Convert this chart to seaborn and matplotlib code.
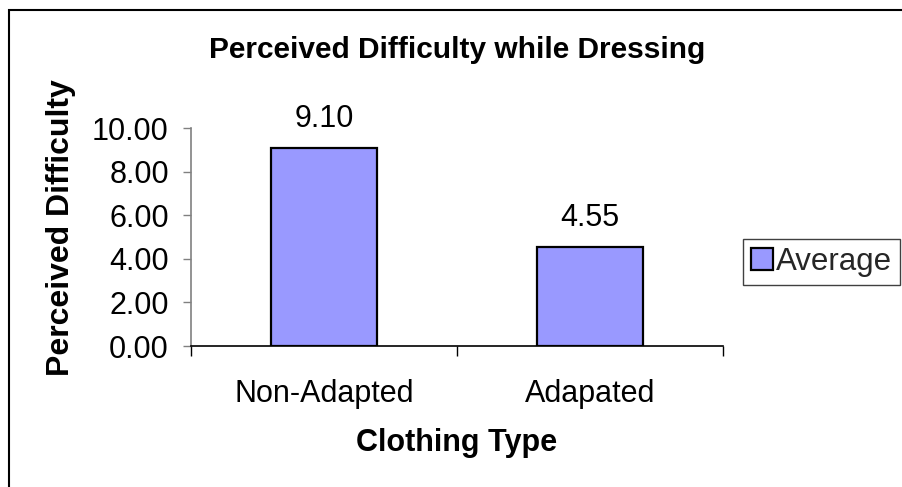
import matplotlib
matplotlib.use("Agg")
import matplotlib.pyplot as plt
from matplotlib.patches import Patch, Rectangle
from matplotlib.ticker import FixedLocator
import seaborn as sns
import pandas as pd

# Chart data
categories = ["Non-Adapted", "Adapated"]
averages = [9.10, 4.55]
y_ticks = [0, 2, 4, 6, 8, 10]
series_name = "Average"

title = "Perceived Difficulty while Dressing"
x_title = "Clothing Type"
y_title = "Perceived Difficulty"

BAR_COLOR = "#9999FF"
FS = 22

sns.set_theme(style="white")
plt.rcParams["font.family"] = ["Liberation Sans", "DejaVu Sans"]

W, H = 903, 487
fig = plt.figure(figsize=(W / 100, H / 100), dpi=100)
fig.patch.set_facecolor("white")

# plot area in pixel terms
left, right, top, bottom = 191, 723, 128, 346
ax = fig.add_axes([left / W, 1 - bottom / H, (right - left) / W, (bottom - top) / H])

df = pd.DataFrame({x_title: categories, series_name: averages})
sns.barplot(data=df, x=x_title, y=series_name, color=BAR_COLOR, saturation=1,
            width=0.4, edgecolor="black", linewidth=1.6, ax=ax)

ax.set_xlim(-0.5, len(categories) - 0.5)
ax.set_ylim(y_ticks[0], y_ticks[-1])
ax.set_yticks(y_ticks)
ax.set_yticklabels([f"{t:.2f}" for t in y_ticks], fontsize=FS)
ax.set_xticks(range(len(categories)))
ax.set_xticklabels(categories, fontsize=FS)

# category separators as minor ticks on the x axis
ax.xaxis.set_minor_locator(FixedLocator([i - 0.5 for i in range(len(categories) + 1)]))
ax.tick_params(axis="x", which="major", length=0, pad=24, labelcolor="black")
ax.tick_params(axis="x", which="minor", length=7, width=1, color="black", direction="out", bottom=True)
ax.tick_params(axis="y", which="major", length=6, width=1, color="#808080", direction="out",
               pad=10, left=True, labelcolor="black")

for side in ("top", "right"):
    ax.spines[side].set_visible(False)
ax.spines["left"].set_color("#808080")
ax.spines["left"].set_linewidth(1.2)
ax.spines["bottom"].set_color("black")
ax.spines["bottom"].set_linewidth(1.2)
ax.grid(False)
ax.set_facecolor("white")

# value labels above each bar
ax.bar_label(ax.containers[0], labels=[f"{v:.2f}" for v in averages],
             padding=10, fontsize=FS, color="black")

# axis titles
ax.set_xlabel(x_title, fontsize=FS, fontweight="bold", color="black")
ax.xaxis.label.set_va("center")
ax.xaxis.set_label_coords(0.5, (bottom - 443) / (bottom - top))
ax.set_ylabel(y_title, fontsize=FS + 1, fontweight="bold", color="black")
ax.yaxis.label.set_va("center")
ax.yaxis.label.set_ha("center")
ax.yaxis.set_label_coords((61 - left) / (right - left), (bottom - 228) / (bottom - top))

ax.set_title(title, fontsize=FS - 0.5, fontweight="bold", color="black", va="center",
             y=(bottom - 58) / (bottom - top))

# legend on the right
handles = [Patch(facecolor=BAR_COLOR, edgecolor="black", linewidth=1.6, label=series_name)]
leg = fig.legend(handles=handles, loc="center left",
                 bbox_to_anchor=(743 / W, 1 - 262 / H), bbox_transform=fig.transFigure,
                 fontsize=FS + 0.5, frameon=True, fancybox=False, framealpha=1,
                 borderpad=0.25, handlelength=0.7, handleheight=0.7,
                 handletextpad=0.12, borderaxespad=0)
leg.get_frame().set_edgecolor("#404040")
leg.get_frame().set_linewidth(1.0)

# chart border
fig.add_artist(Rectangle((9.5 / W, -0.1), 1.2, 1 - 10 / H + 0.1,
                         transform=fig.transFigure, fill=False,
                         edgecolor="black", linewidth=1.5))

fig.savefig("out.png", dpi=100, facecolor="white")
